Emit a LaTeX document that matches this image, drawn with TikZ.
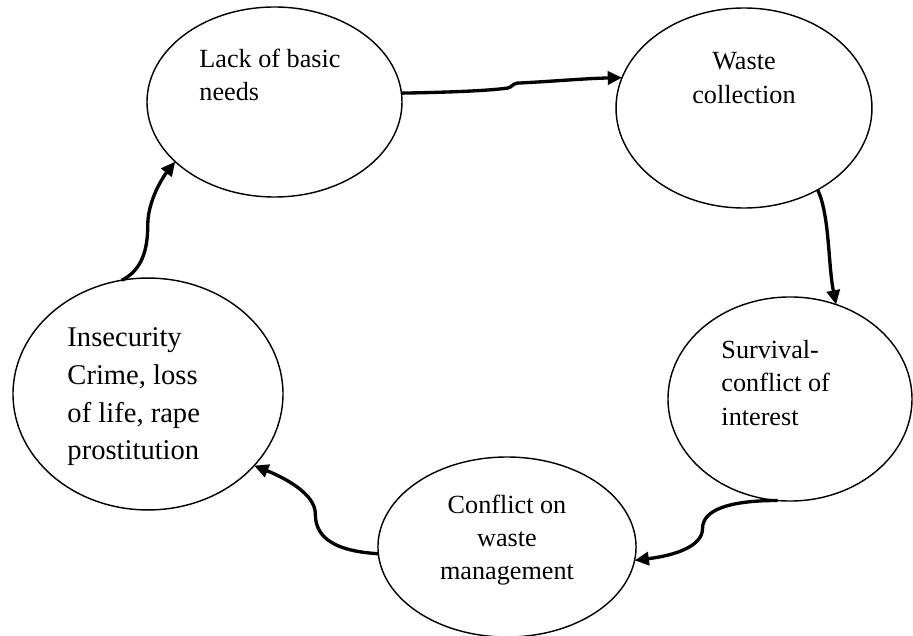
\documentclass[tikz,border=0pt]{standalone}
\usepackage{fontspec}
\setmainfont{Liberation Serif}
\usepackage{tikz}
\usetikzlibrary{shapes.geometric, arrows.meta}

\begin{document}
\begin{tikzpicture}[
      x=0.42pt, y=-0.42pt,
      bubble/.style={draw, ellipse, line width=0.6pt, inner sep=0pt, outer sep=0pt},
      lbl/.style={inner sep=0pt, font=\fontsize{11}{14}\selectfont},
      arrow/.style={-{Triangle[length=6pt, width=5.5pt]}, line width=1.4pt}
    ]
    \useasboundingbox (0,0) rectangle (913,636);

    % the five stages
    \node[bubble, minimum width=107.1pt, minimum height=79.8pt] (needs) at (274.5,102) {};
    \node[bubble, minimum width=107.5pt, minimum height=84pt] (collect) at (744,108) {};
    \node[bubble, minimum width=102.5pt, minimum height=85.7pt] (survive) at (790,399) {};
    \node[bubble, minimum width=108.4pt, minimum height=75.6pt] (waste) at (507,547) {};
    \node[bubble, minimum width=113.4pt, minimum height=97.4pt] (insec) at (148,394) {};

    \node[lbl, anchor=west, align=left] (needs-lbl) at (199,75) {Lack of basic\\needs};
    \node[lbl, align=center] (collect-lbl) at (744,78) {Waste\\collection};
    \node[lbl, anchor=west, align=left] (survive-lbl) at (721,383) {Survival-\\conflict of\\interest};
    \node[lbl, align=center] (waste-lbl) at (507,540) {Conflict on\\waste\\management};
    \node[lbl, anchor=west, align=left, font=\fontsize{12}{15.8}\selectfont] (insec-lbl) at (67,397) {Insecurity\\Crime, loss\\of life, rape\\prostitution};

    % the cycle
    \draw[arrow] (needs.4) .. controls +(60,-1) and +(-15,2) .. ++(106,-5)
      .. controls +(5,-1) and +(-6,1) .. ++(10,-5)
      .. controls +(40,-2) and +(-40,1) .. (collect.166);
    \draw[arrow] (collect.-48) .. controls +(12,25) and +(-8,-40) .. (survive.64);
    \draw[arrow] (survive.263) .. controls +(-50,0) and +(0,-18) .. ++(-75,28)
      .. controls +(0,18) and +(40,-5) .. (waste.-6);
    \draw[arrow] (waste.183) .. controls +(-50,-3) and +(0,20) .. ++(-63,-40)
      .. controls +(0,-20) and +(30,12) .. (insec.-34);
    \draw[arrow] (insec.103) .. controls +(20,-10) and +(0,25) .. ++(26,-55)
      .. controls +(0,-25) and +(-12,15) .. (needs.211);
  \end{tikzpicture}
\end{document}
